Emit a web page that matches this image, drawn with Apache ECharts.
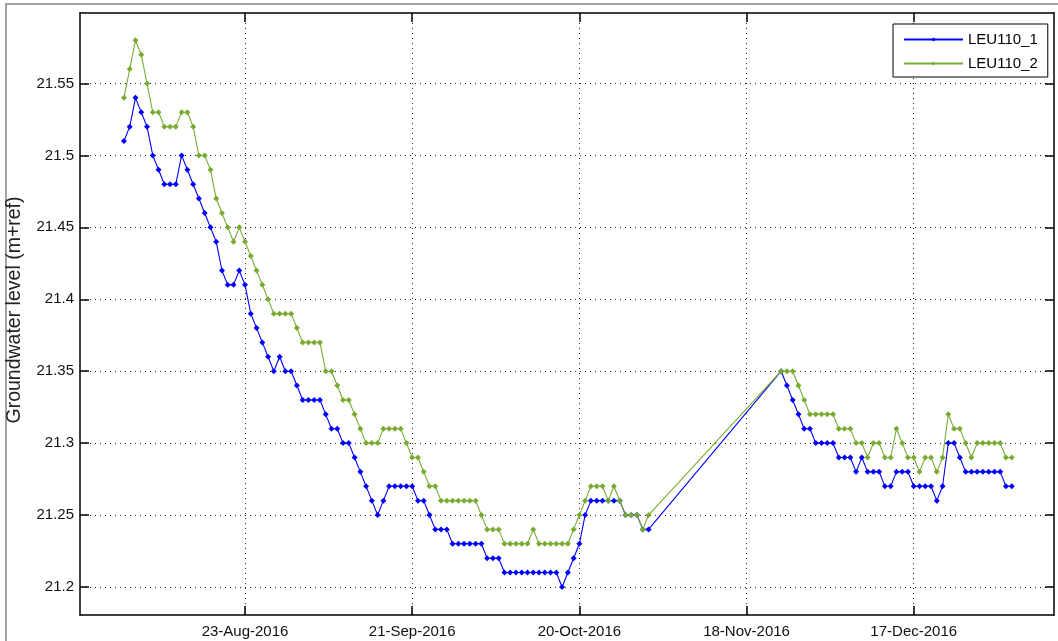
<!DOCTYPE html>
<html>
<head>
<meta charset="utf-8">
<title>Groundwater level LEU110</title>
<script src="https://cdn.jsdelivr.net/npm/echarts@6/dist/echarts.min.js"></script>
<style>
  html, body { margin: 0; padding: 0; background: #fff; }
  #chart { width: 1058px; height: 641px; }
</style>
</head>
<body>
<div id="chart"></div>
<script>
// Daily readings, first run: 02-Aug-2016 .. 01-Nov-2016
const startA = '2016-08-02';
const leu110_1_A = [
  21.51, 21.52, 21.54, 21.53, 21.52, 21.50, 21.49, 21.48, 21.48, 21.48,
  21.50, 21.49, 21.48, 21.47, 21.46, 21.45, 21.44, 21.42, 21.41, 21.41,
  21.42, 21.41, 21.39, 21.38, 21.37, 21.36, 21.35, 21.36, 21.35, 21.35,
  21.34, 21.33, 21.33, 21.33, 21.33, 21.32, 21.31, 21.31, 21.30, 21.30,
  21.29, 21.28, 21.27, 21.26, 21.25, 21.26, 21.27, 21.27, 21.27, 21.27,
  21.27, 21.26, 21.26, 21.25, 21.24, 21.24, 21.24, 21.23, 21.23, 21.23,
  21.23, 21.23, 21.23, 21.22, 21.22, 21.22, 21.21, 21.21, 21.21, 21.21,
  21.21, 21.21, 21.21, 21.21, 21.21, 21.21, 21.20, 21.21, 21.22, 21.23,
  21.25, 21.26, 21.26, 21.26, 21.26, 21.26, 21.26, 21.25, 21.25, 21.25,
  21.24, 21.24
];
const leu110_2_A = [
  21.54, 21.56, 21.58, 21.57, 21.55, 21.53, 21.53, 21.52, 21.52, 21.52,
  21.53, 21.53, 21.52, 21.50, 21.50, 21.49, 21.47, 21.46, 21.45, 21.44,
  21.45, 21.44, 21.43, 21.42, 21.41, 21.40, 21.39, 21.39, 21.39, 21.39,
  21.38, 21.37, 21.37, 21.37, 21.37, 21.35, 21.35, 21.34, 21.33, 21.33,
  21.32, 21.31, 21.30, 21.30, 21.30, 21.31, 21.31, 21.31, 21.31, 21.30,
  21.29, 21.29, 21.28, 21.27, 21.27, 21.26, 21.26, 21.26, 21.26, 21.26,
  21.26, 21.26, 21.25, 21.24, 21.24, 21.24, 21.23, 21.23, 21.23, 21.23,
  21.23, 21.24, 21.23, 21.23, 21.23, 21.23, 21.23, 21.23, 21.24, 21.25,
  21.26, 21.27, 21.27, 21.27, 21.26, 21.27, 21.26, 21.25, 21.25, 21.25,
  21.24, 21.25
];

// Daily readings, second run: 24-Nov-2016 .. 03-Jan-2017
const startB = '2016-11-24';
const leu110_1_B = [
  21.35, 21.34, 21.33, 21.32, 21.31, 21.31, 21.30, 21.30, 21.30, 21.30,
  21.29, 21.29, 21.29, 21.28, 21.29, 21.28, 21.28, 21.28, 21.27, 21.27,
  21.28, 21.28, 21.28, 21.27, 21.27, 21.27, 21.27, 21.26, 21.27, 21.30,
  21.30, 21.29, 21.28, 21.28, 21.28, 21.28, 21.28, 21.28, 21.28, 21.27,
  21.27
];
const leu110_2_B = [
  21.35, 21.35, 21.35, 21.34, 21.33, 21.32, 21.32, 21.32, 21.32, 21.32,
  21.31, 21.31, 21.31, 21.30, 21.30, 21.29, 21.30, 21.30, 21.29, 21.29,
  21.31, 21.30, 21.29, 21.29, 21.28, 21.29, 21.29, 21.28, 21.29, 21.32,
  21.31, 21.31, 21.30, 21.29, 21.30, 21.30, 21.30, 21.30, 21.30, 21.29,
  21.29
];

const seriesNames = ['LEU110_1', 'LEU110_2'];
const xTickDates = ['2016-08-23', '2016-09-21', '2016-10-20', '2016-11-18', '2016-12-17'];
const yTickValues = [21.2, 21.25, 21.3, 21.35, 21.4, 21.45, 21.5, 21.55];

const DAY = 86400000;
const MONTHS = ['Jan','Feb','Mar','Apr','May','Jun','Jul','Aug','Sep','Oct','Nov','Dec'];
const utc = s => { const p = s.split('-').map(Number); return Date.UTC(p[0], p[1] - 1, p[2]); };

// pair each daily reading with its date (ms since epoch, UTC)
function daily(start, values) {
  const t0 = utc(start);
  return values.map((v, i) => [t0 + i * DAY, v]);
}
function fmtDate(v) {
  const d = new Date(v);
  const dd = String(d.getUTCDate()).padStart(2, '0');
  return dd + '-' + MONTHS[d.getUTCMonth()] + '-' + d.getUTCFullYear();
}

const xTicks = xTickDates.map(utc);
const xMin = utc('2016-07-25') + 9 * 3600000;
const xMax = utc('2017-01-10') + 8 * 3600000;
const yMin = 21.1805, yMax = 21.599;

const FONT = '"Liberation Sans", Arial, Helvetica, sans-serif';
const gridLine = { show: true, lineStyle: { color: '#222', width: 1, type: [1, 4] } };
const tickStyle = { show: true, inside: true, length: 9, lineStyle: { color: '#000', width: 1.5 } };
const axisLineStyle = { show: true, onZero: false, lineStyle: { color: '#000', width: 1.5 } };

const blue = '#0000ff';
const green = '#77ac30';

function lineSeries(name, color, data) {
  return {
    name: name, type: 'line', data: data,
    xAxisIndex: 0, yAxisIndex: 0,
    symbol: 'diamond', symbolSize: 6, showSymbol: true,
    itemStyle: { color: color },
    lineStyle: { color: color, width: 1.1 },
    emphasis: { disabled: true },
    animation: false
  };
}

const chart = echarts.init(document.getElementById('chart'), null, { renderer: 'canvas' });
chart.setOption({
  backgroundColor: '#ffffff',
  animation: false,
  textStyle: { fontFamily: FONT },
  graphic: [{
    type: 'rect', silent: true, z: -10,
    shape: { x: 6, y: 4, width: 1100, height: 700 },
    style: { fill: 'none', stroke: '#a3a3a3', lineWidth: 2 }
  }],
  grid: { left: 80, right: 4, top: 13, bottom: 26, show: false, containLabel: false, outerBoundsMode: 'none' },
  legend: {
    data: seriesNames,
    orient: 'vertical',
    left: 893, top: 24,
    padding: [8, 10, 6, 10],
    itemGap: 9,
    itemWidth: 59, itemHeight: 5,
    backgroundColor: '#ffffff',
    borderColor: '#000', borderWidth: 1,
    textStyle: { fontSize: 15, color: '#000', fontFamily: FONT },
    selectedMode: false
  },
  xAxis: [{
    type: 'value', position: 'bottom', min: xMin, max: xMax, scale: true,
    axisLine: axisLineStyle,
    axisTick: Object.assign({ customValues: xTicks }, tickStyle),
    axisLabel: { customValues: xTicks, formatter: fmtDate, fontSize: 15, color: '#111', margin: 9, fontFamily: FONT },
    splitLine: gridLine
  }, {
    type: 'value', position: 'top', min: xMin, max: xMax, scale: true,
    axisLine: axisLineStyle,
    axisTick: Object.assign({ customValues: xTicks }, tickStyle),
    axisLabel: { show: false, customValues: xTicks },
    splitLine: { show: false }
  }],
  yAxis: [{
    type: 'value', position: 'left', min: yMin, max: yMax, scale: true,
    name: 'Groundwater level (m+ref)',
    nameLocation: 'middle', nameGap: 55, nameMoveOverlap: false,
    nameTextStyle: { fontSize: 19.5, color: '#222', fontFamily: FONT, padding: [0, 0, 0, 8] },
    axisLine: axisLineStyle,
    axisTick: Object.assign({ customValues: yTickValues }, tickStyle),
    axisLabel: { customValues: yTickValues, fontSize: 15, color: '#111', margin: 6, fontFamily: FONT,
                 formatter: v => String(+v.toFixed(2)) },
    splitLine: gridLine
  }, {
    type: 'value', position: 'right', min: yMin, max: yMax, scale: true,
    axisLine: axisLineStyle,
    axisTick: Object.assign({ customValues: yTickValues }, tickStyle),
    axisLabel: { show: false, customValues: yTickValues },
    splitLine: { show: false }
  }],
  series: [
    lineSeries(seriesNames[0], blue, daily(startA, leu110_1_A).concat(daily(startB, leu110_1_B))),
    lineSeries(seriesNames[1], green, daily(startA, leu110_2_A).concat(daily(startB, leu110_2_B)))
  ]
});
</script>
</body>
</html>
